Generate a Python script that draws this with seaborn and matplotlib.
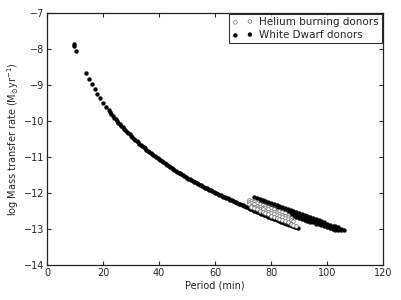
import numpy as np
import pandas as pd
import matplotlib
matplotlib.use("Agg")
import matplotlib.pyplot as plt
import seaborn as sns

# ── Données ───────────────────────────────────────────────
# White Dwarf donors : piste principale (période en min, log Mdot)
wd_main_period = [9.6, 9.8, 10.3,
                  14, 15, 16, 17, 18, 19, 20, 21, 22, 23, 24, 25, 26, 27, 28, 29,
                  30, 31, 32, 33, 34, 35, 36, 37, 38, 39, 40, 41, 42, 43, 44, 45,
                  46, 47, 48, 49, 50, 51, 52, 53, 54, 55, 56, 57, 58, 59, 60, 61,
                  62, 63, 64, 65, 66, 67, 68, 69, 70, 71, 72, 73, 74, 75, 76, 77,
                  78, 79, 80, 81, 82, 83, 84, 85, 86, 87, 88, 89, 89.5]
wd_main_rate = [-7.86, -7.93, -8.07,
                -8.68, -8.84, -8.98, -9.12, -9.25, -9.37, -9.49, -9.60, -9.71,
                -9.81, -9.91, -10.00, -10.09, -10.17, -10.26, -10.34,
                -10.41, -10.49, -10.56, -10.63, -10.70, -10.76, -10.83, -10.89,
                -10.95, -11.01, -11.07, -11.12, -11.18, -11.23, -11.29, -11.34,
                -11.39, -11.44, -11.48, -11.53, -11.58, -11.62, -11.67, -11.71,
                -11.75, -11.79, -11.83, -11.87, -11.91, -11.95, -11.99, -12.03,
                -12.07, -12.10, -12.14, -12.17, -12.21, -12.24, -12.28, -12.31,
                -12.34, -12.38, -12.42, -12.45, -12.49, -12.52, -12.56, -12.59,
                -12.62, -12.66, -12.69, -12.72, -12.75, -12.78, -12.81, -12.84,
                -12.87, -12.90, -12.93, -12.96, -12.98]

# points intermédiaires de la même piste (partie continue de la courbe)
wd_mid_period = [22.5, 23.5, 24.5, 25.5, 26.5, 27.5, 28.5, 29.5, 30.5, 31.5,
                 32.5, 33.5, 34.5, 35.5, 36.5, 37.5, 38.5, 39.5, 40.5, 41.5,
                 42.5, 43.5, 44.5, 45.5, 46.5, 47.5, 48.5, 49.5, 50.5, 51.5,
                 52.5, 53.5, 54.5, 55.5, 56.5, 57.5, 58.5, 59.5, 60.5, 61.5,
                 62.5, 63.5, 64.5, 65.5, 66.5, 67.5, 68.5, 69.5, 70.5, 71.5,
                 72.5, 73.5, 74.5, 75.5, 76.5, 77.5, 78.5, 79.5, 80.5, 81.5,
                 82.5, 83.5, 84.5, 85.5, 86.5, 87.5, 88.5]
wd_mid_rate = [-9.76, -9.86, -9.955, -10.045, -10.13, -10.215, -10.30, -10.375,
               -10.45, -10.525, -10.595, -10.665, -10.73, -10.795, -10.86, -10.92,
               -10.98, -11.04, -11.095, -11.15, -11.205, -11.26, -11.315, -11.365,
               -11.415, -11.46, -11.505, -11.555, -11.60, -11.645, -11.69, -11.73,
               -11.77, -11.81, -11.85, -11.89, -11.93, -11.97, -12.01, -12.05,
               -12.085, -12.12, -12.155, -12.19, -12.225, -12.26, -12.295, -12.325,
               -12.36, -12.40, -12.435, -12.47, -12.505, -12.54, -12.575, -12.605,
               -12.64, -12.675, -12.705, -12.735, -12.765, -12.795, -12.825, -12.855,
               -12.885, -12.915, -12.945]

# White Dwarf donors : bande supérieure (trois pistes)
wd_a_period = list(range(74, 107))
wd_a_rate = [-12.10, -12.13, -12.16, -12.19, -12.22, -12.24, -12.27, -12.30,
             -12.33, -12.36, -12.39, -12.42, -12.45, -12.47, -12.50, -12.53,
             -12.56, -12.59, -12.62, -12.65, -12.68, -12.70, -12.73, -12.76,
             -12.79, -12.82, -12.85, -12.88, -12.91, -12.93, -12.96, -12.99, -13.02]
wd_b_period = list(range(76, 106))
wd_b_rate = [-12.28, -12.31, -12.33, -12.36, -12.38, -12.41, -12.44, -12.46,
             -12.49, -12.51, -12.54, -12.56, -12.59, -12.62, -12.64, -12.67,
             -12.70, -12.72, -12.75, -12.77, -12.80, -12.82, -12.85, -12.88,
             -12.90, -12.93, -12.95, -12.98, -13.00, -13.03]
wd_c_period = list(range(78, 105))
wd_c_rate = [-12.40, -12.42, -12.45, -12.47, -12.50, -12.52, -12.55, -12.57,
             -12.60, -12.62, -12.65, -12.67, -12.70, -12.72, -12.75, -12.77,
             -12.80, -12.82, -12.85, -12.87, -12.90, -12.92, -12.95, -12.97,
             -13.00, -13.02, -13.04]

# Helium burning donors (quatre pistes)
he_1_period = list(range(72, 87))
he_1_rate = [-12.20, -12.23, -12.26, -12.29, -12.31, -12.34, -12.37, -12.40,
             -12.43, -12.46, -12.49, -12.51, -12.54, -12.57, -12.60]
he_2_period = list(range(72, 88))
he_2_rate = [-12.26, -12.29, -12.32, -12.35, -12.38, -12.41, -12.43, -12.46,
             -12.49, -12.52, -12.55, -12.58, -12.61, -12.64, -12.67, -12.70]
he_3_period = list(range(72, 89))
he_3_rate = [-12.32, -12.35, -12.38, -12.41, -12.44, -12.46, -12.49, -12.52,
             -12.55, -12.58, -12.61, -12.63, -12.66, -12.69, -12.72, -12.75, -12.78]
he_4_period = list(range(73, 90))
he_4_rate = [-12.40, -12.43, -12.46, -12.50, -12.53, -12.56, -12.59, -12.63,
             -12.66, -12.69, -12.72, -12.76, -12.79, -12.82, -12.85, -12.89, -12.92]

wd = pd.DataFrame({
    "period": wd_main_period + wd_mid_period + wd_a_period + wd_b_period + wd_c_period,
    "rate": wd_main_rate + wd_mid_rate + wd_a_rate + wd_b_rate + wd_c_rate,
})
he = pd.DataFrame({
    "period": he_1_period + he_2_period + he_3_period + he_4_period,
    "rate": he_1_rate + he_2_rate + he_3_rate + he_4_rate,
})

# ── Style ─────────────────────────────────────────────────
sns.set_style("ticks")
plt.rcParams.update({
    "font.family": ["DejaVu Sans"],
    "font.size": 7,
    "xtick.direction": "in",
    "ytick.direction": "in",
    "xtick.top": True,
    "ytick.right": True,
    "xtick.major.size": 3,
    "ytick.major.size": 3,
    "axes.edgecolor": "#222222",
    "axes.linewidth": 0.9,
})

fig = plt.figure(figsize=(4.02, 3.0), dpi=100)
ax = fig.add_axes([0.117, 0.117, 0.836, 0.840])

sns.scatterplot(data=he, x="period", y="rate", ax=ax, marker="o", s=7,
                facecolor="white", edgecolor="#6e6e6e", linewidth=0.5,
                label="Helium burning donors", zorder=3)
sns.scatterplot(data=wd, x="period", y="rate", ax=ax, marker="o", s=10,
                color="black", linewidth=0, label="White Dwarf donors", zorder=2)

ax.set_xlim(0, 120)
ax.set_ylim(-14, -7)
ax.set_xticks([0, 20, 40, 60, 80, 100, 120])
ax.set_yticks([-14, -13, -12, -11, -10, -9, -8, -7])
ax.tick_params(labelsize=7, pad=2)
ax.set_xlabel("Period (min)", fontsize=7, labelpad=2)
ax.set_ylabel(r"log Mass transfer rate (M$_{\odot}$yr$^{-1}$)", fontsize=7, labelpad=2)

leg = ax.legend(loc="upper right", fontsize=7.5, scatterpoints=2, markerscale=1.0,
                fancybox=False, frameon=True, edgecolor="black", borderaxespad=0.1,
                handletextpad=0.6, borderpad=0.3, labelspacing=0.3)
leg.get_frame().set_linewidth(0.8)

fig.savefig("out.png", dpi=100)
